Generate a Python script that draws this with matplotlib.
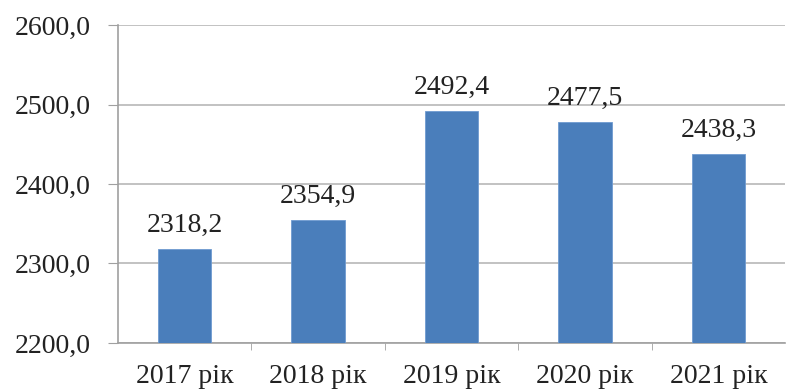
import numpy as np
import matplotlib.pyplot as plt

years = ['2017 рік', '2018 рік', '2019 рік', '2020 рік', '2021 рік']
values = [2318.2, 2354.9, 2492.4, 2477.5, 2438.3]
y_ticks = [2200, 2300, 2400, 2500, 2600]

plt.rcParams['font.family'] = ['Liberation Serif', 'DejaVu Serif']


def fmt(v, dec=1):
    return f'{v:.{dec}f}'.replace('.', ',')


def main():
    fig = plt.figure(figsize=(7.89, 3.91), dpi=100)
    ax = fig.add_axes([0.1496, 0.1228, 0.8454, 0.8132])

    x = np.arange(len(years))
    ax.bar(x, values, width=0.4, color='#4a7ebb', edgecolor='#6f9bd1',
           linewidth=0.6, zorder=3)

    # value labels above bars
    for xi, v in zip(x, values):
        ax.annotate(fmt(v), (xi, v), xytext=(0, 8), textcoords='offset points',
                    ha='center', va='bottom', fontsize=20, color='#222222',
                    zorder=4)

    ax.set_ylim(2200, 2600)
    ax.set_xlim(-0.5, len(years) - 0.5)
    ax.set_yticks(y_ticks)
    ax.set_yticklabels([fmt(t) for t in y_ticks], fontsize=20, color='#222222')
    ax.yaxis.grid(True, color='#b8b8b8', linewidth=1.2, zorder=0)

    # category ticks sit between bars
    ax.set_xticks(x)
    ax.set_xticklabels(years, fontsize=20, color='#222222')
    ax.tick_params(axis='x', length=0, pad=15)
    ax.set_xticks(np.arange(0.5, len(years) - 1, 1), minor=True)
    ax.tick_params(axis='x', which='minor', length=5, color='#a0a0a0',
                   direction='out')
    ax.tick_params(axis='y', length=7, color='#a0a0a0', pad=13)

    for s in ['top', 'right']:
        ax.spines[s].set_visible(False)
    ax.spines['left'].set_color('#a0a0a0')
    ax.spines['bottom'].set_color('#a0a0a0')
    ax.spines['left'].set_linewidth(1.2)
    ax.spines['bottom'].set_linewidth(1.2)

    fig.savefig('out.png', dpi=100)


if __name__ == "__main__":
    main()
